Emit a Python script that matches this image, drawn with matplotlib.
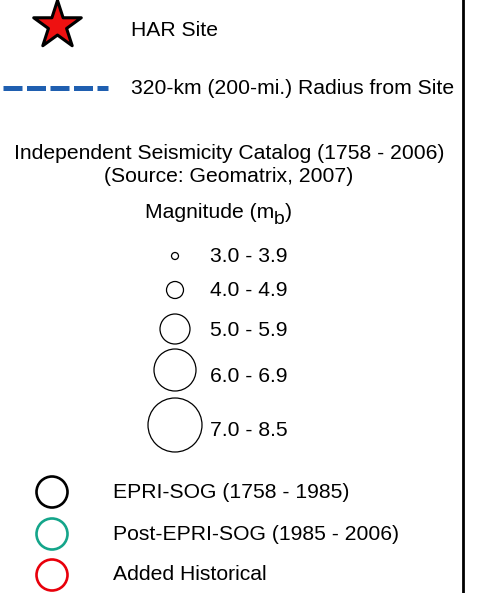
import matplotlib
matplotlib.use("Agg")
import matplotlib.pyplot as plt

plt.rcParams['font.family'] = ['Liberation Sans', 'DejaVu Sans']

# legend content
site_label = "HAR Site"
radius_label = "320-km (200-mi.) Radius from Site"
catalog_title = "Independent Seismicity Catalog (1758 - 2006)\n(Source: Geomatrix, 2007)"
mag_title = ["Magnitude (m", "b", ")"]

mag_labels = ["3.0 - 3.9", "4.0 - 4.9", "5.0 - 5.9", "6.0 - 6.9", "7.0 - 8.5"]
mag_diam = [7, 17, 30, 42, 54]          # symbol diameter, px
mag_y = [256, 290, 329, 370, 425]
mag_text_y = [256, 290, 330, 377, 430]

cat_labels = ["EPRI-SOG (1758 - 1985)", "Post-EPRI-SOG (1985 - 2006)", "Added Historical"]
cat_colors = ["#000000", "#14a58a", "#e8000b"]
cat_y = [492, 534, 575]

W, H = 491, 593
fig = plt.figure(figsize=(W / 100, H / 100), dpi=100)
ax = fig.add_axes([0, 0, 1, 1])
ax.set_xlim(0, W)
ax.set_ylim(H, 0)
ax.axis('off')

px = 72 / 100  # pixels -> points
fs = 15.2

# site star
ax.scatter([57], [25], marker='*', s=(50 * px) ** 2, c='#ee1111',
           edgecolors='black', linewidths=2.2, zorder=3)
ax.text(131, 30, site_label, fontsize=fs, va='center')

# radius line
ax.plot([3, 108], [88, 88], color='#1f5fb0', lw=3.6, ls=(0, (3.8, 0.9)),
        solid_capstyle='butt', dash_capstyle='butt')
ax.text(131, 88, radius_label, fontsize=fs, va='center')

# right border
ax.plot([463, 463], [0, H], color='black', lw=2)

ax.text(229, 165, catalog_title, fontsize=fs, ha='center', va='center',
        linespacing=1.27)

# magnitude title with full-size subscript
r = fig.canvas.get_renderer()
t = ax.text(145, 213, mag_title[0], fontsize=fs, va='center')
x_end = ax.transData.inverted().transform(t.get_window_extent(r).corners()[-1])[0]
t2 = ax.text(x_end, 220, mag_title[1], fontsize=fs * 0.92, va='center')
x_end = ax.transData.inverted().transform(t2.get_window_extent(r).corners()[-1])[0]
ax.text(x_end, 213, mag_title[2], fontsize=fs, va='center')

# magnitude symbols
for lab, d, y, ty in zip(mag_labels, mag_diam, mag_y, mag_text_y):
    ax.scatter([175], [y], s=(d * px) ** 2, facecolors='none',
               edgecolors='black', linewidths=0.9)
    ax.text(210, ty, lab, fontsize=fs, va='center')

# catalog symbols
for lab, c, y in zip(cat_labels, cat_colors, cat_y):
    ax.scatter([52], [y], s=(31 * px) ** 2, facecolors='none',
               edgecolors=c, linewidths=1.9)
    ax.text(113, y, lab, fontsize=fs, va='center')

fig.savefig("out.png", dpi=100)
